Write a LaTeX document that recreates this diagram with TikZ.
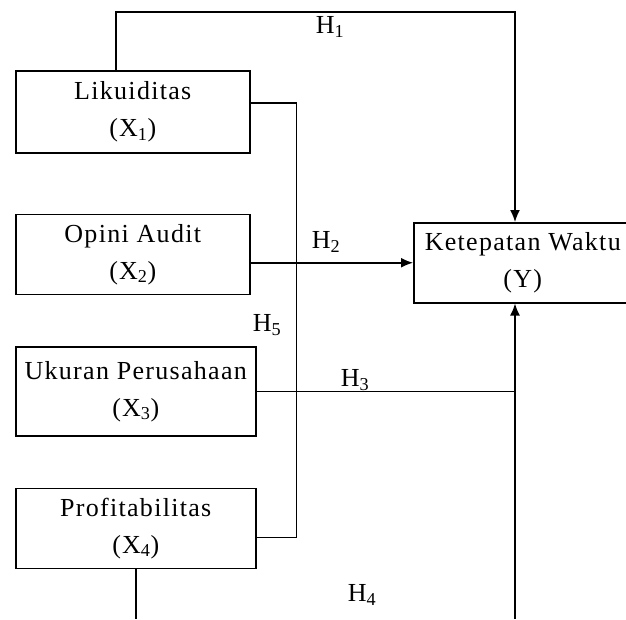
\documentclass[tikz,border=0pt]{standalone}
\usepackage{fontspec}
\setmainfont{Liberation Serif}[LetterSpace=5]
\usetikzlibrary{positioning,arrows.meta}

\begin{document}
\begin{tikzpicture}[
	x=1pt, y=1pt,
	box/.style={rectangle, draw, line width=1.5pt, minimum width=234pt,
	minimum height=80pt, inner sep=0pt, align=center,
	font=\fontsize{26}{37}\selectfont},
	lbl/.style={font=\fontsize{26}{30}\selectfont},
	ln/.style={line width=1.5pt},
	arr/.style={line width=1.5pt, -{Latex[length=12pt,width=10pt]}}
	]
	\useasboundingbox (0,0) rectangle (626,-619);
	\clip (0,0) rectangle (626,-619);
	
	\node[box, minimum height=82pt, anchor=north west] (x1) at (15,-70) {Likuiditas\\(X\textsubscript{1})};
	\node[box, below=60pt of x1.south west, anchor=north west] (x2) {Opini Audit\\(X\textsubscript{2})};
	\node[box, minimum width=240pt, minimum height=89pt, below=51pt of x2.south west, anchor=north west] (x3) {Ukuran Perusahaan\\(X\textsubscript{3})};
	\node[box, minimum width=240pt, below=51pt of x3.south west, anchor=north west] (x4) {Profitabilitas\\(X\textsubscript{4})};
	\node[box, minimum width=218pt, anchor=north west] (y) at (413,-222) {Ketepatan Waktu\\(Y)};
	
	\coordinate (t1) at (116,-12);
	\coordinate (t2) at (515,-12);
	\coordinate (t3) at (515,-619);
	
	% H1
	\draw[arr] (x1.north -| t1) -- (t1) -- (t2) -- (t2 |- y.north);
	% H2
	\draw[arr] (y.west -| x2.east) -- (y.west);
	% H3
	\draw[ln] (x3.east) -- (x3.east -| t3);
	\draw[arr] (t3) -- (t3 |- y.south);
	% H4
	\draw[ln] (x4.south) -- (x4.south |- t3);
	% H5
	\draw[ln] ([yshift=9pt]x1.east) -- ++(46,0) |- ([yshift=-9pt]x4.east);
	
	\node[lbl] (h1) at (330,-27) {H\textsubscript{1}};
	\node[lbl] (h2) at (326,-242) {H\textsubscript{2}};
	\node[lbl] (h3) at (355,-380) {H\textsubscript{3}};
	\node[lbl] (h4) at (362,-595) {H\textsubscript{4}};
	\node[lbl] (h5) at (267,-325) {H\textsubscript{5}};
\end{tikzpicture}
\end{document}
